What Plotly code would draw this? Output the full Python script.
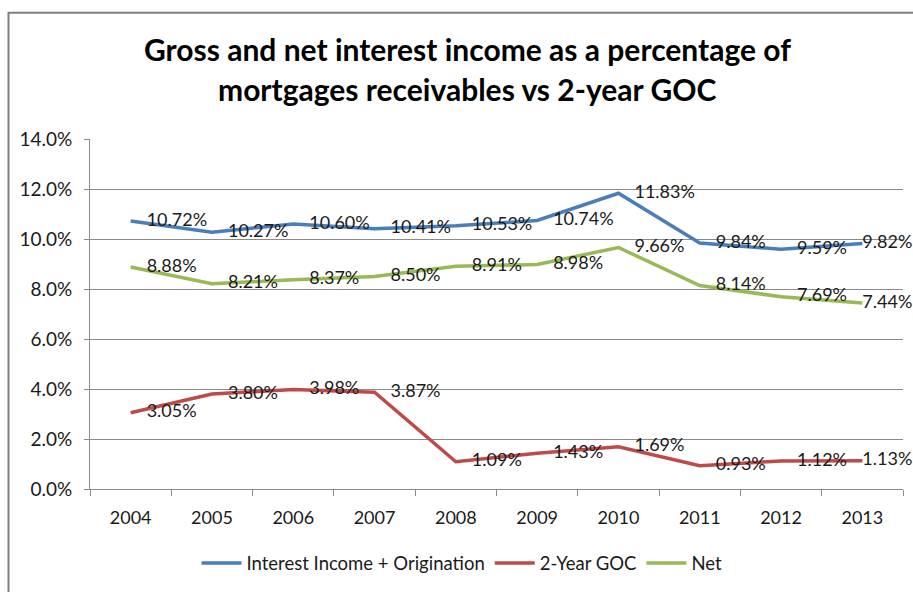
import plotly.graph_objects as go

years = ["2004", "2005", "2006", "2007", "2008", "2009", "2010", "2011", "2012", "2013"]
interest_origination = [10.72, 10.27, 10.60, 10.41, 10.53, 10.74, 11.83, 9.84, 9.59, 9.82]
goc_2yr = [3.05, 3.80, 3.98, 3.87, 1.09, 1.43, 1.69, 0.93, 1.12, 1.13]
net = [8.88, 8.21, 8.37, 8.50, 8.91, 8.98, 9.66, 8.14, 7.69, 7.44]

series = [
    ("Interest Income + Origination", interest_origination, "#4A7EBB"),
    ("2-Year GOC", goc_2yr, "#BE4B48"),
    ("Net", net, "#98B954"),
]

FONT = "Lato"
TEXT_COLOR = "#1a1a1a"
GRID = "#8a8a8a"

# transparent marker sizes set how far each value label sits from its point;
# the last year's labels hug the line so they stay inside the chart
label_gap = [24] * (len(years) - 1) + [0]

fig = go.Figure()
for name, values, color in series:
    fig.add_trace(go.Scatter(
        x=years, y=values, name=name, mode="lines",
        line=dict(color=color, width=3.5),
    ))
for name, values, color in series:
    fig.add_trace(go.Scatter(
        x=years, y=values, name=name, mode="markers+text", showlegend=False,
        marker=dict(size=label_gap, opacity=0, color=color),
        texttemplate="%{y:.2f}%",
        textposition="middle right",
        textfont=dict(family=FONT, size=18, color=TEXT_COLOR),
        cliponaxis=False, hoverinfo="skip",
    ))

# plot area spans 90..903 px horizontally and 139..491 px vertically
L, R, T, B = 90, 10, 139, 101
W, H = 913, 592
pw, ph = W - L - R, H - T - B

def px_x(x):
    return (x - L) / pw

def px_y(y):
    return (H - B - y) / ph

title_lines = [
    ("Gross and net interest income as a percentage of", 48),
    ("mortgages receivables vs 2-year GOC", 89),
]
annotations = [
    dict(text=f"<b>{t}</b>", x=px_x(467), y=px_y(y), xref="paper", yref="paper",
         xanchor="center", yanchor="middle", showarrow=False,
         font=dict(family=FONT, size=30, color="#000000"))
    for t, y in title_lines
]

fig.update_layout(
    width=W, height=H,
    margin=dict(l=L, r=R, t=T, b=B),
    paper_bgcolor="white", plot_bgcolor="white",
    showlegend=True,
    legend=dict(orientation="h", x=px_x(462), xanchor="center",
                y=px_y(566), yanchor="middle",
                font=dict(family=FONT, size=18.5, color=TEXT_COLOR),
                itemwidth=40, bgcolor="rgba(0,0,0,0)"),
    annotations=annotations,
    shapes=[
        dict(type="rect", xref="paper", yref="paper",
             x0=px_x(8.5), x1=px_x(940), y0=px_y(620), y1=px_y(12),
             line=dict(color="#7f7f7f", width=2), layer="below"),
    ],
    xaxis=dict(
        type="category", range=[-0.5, 9.5],
        showline=True, linecolor=GRID, linewidth=1,
        ticks="outside", tickson="boundaries", ticklen=6, tickcolor=GRID,
        ticklabelstandoff=12,
        showgrid=False, zeroline=False,
        tickfont=dict(family=FONT, size=18, color=TEXT_COLOR),
    ),
    yaxis=dict(
        range=[0, 14], dtick=2, tickformat=".1f", ticksuffix="%",
        showline=True, linecolor=GRID, linewidth=1,
        ticks="outside", ticklen=5, tickcolor=GRID,
        ticklabelstandoff=8,
        showgrid=True, gridcolor=GRID, gridwidth=1, zeroline=False,
        tickfont=dict(family=FONT, size=19, color=TEXT_COLOR),
    ),
)

fig.write_html("out.html")
